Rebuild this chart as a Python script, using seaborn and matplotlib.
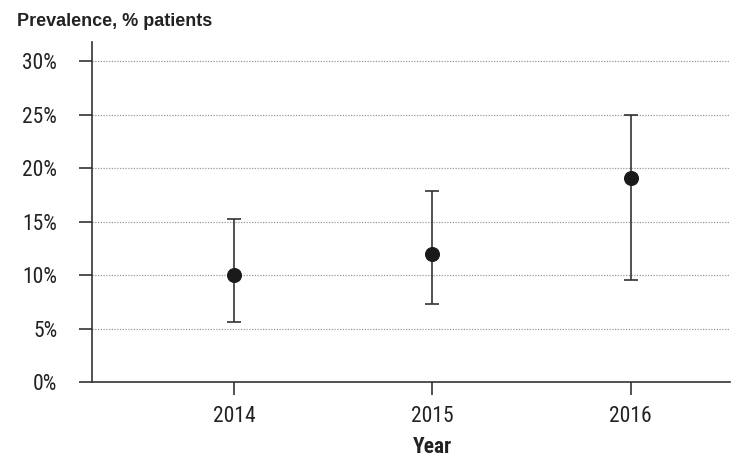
import matplotlib
matplotlib.use("Agg")
import matplotlib.pyplot as plt
import seaborn as sns
import pandas as pd
from matplotlib.ticker import FuncFormatter
from matplotlib import font_manager

years = ["2014", "2015", "2016"]
prevalence = [10.0, 12.0, 19.1]
ci_low = [5.6, 7.3, 9.5]
ci_high = [15.2, 17.85, 25.0]
yticks = [0, 5, 10, 15, 20, 25, 30]

df = pd.DataFrame({"Year": years, "Prevalence": prevalence})

sns.set_theme(style="white")
plt.rcParams['font.family'] = ['Liberation Sans', 'DejaVu Sans']

names = {f.name for f in font_manager.fontManager.ttflist}
narrow_font = 'Liberation Sans'
for cand in ['Liberation Sans Narrow', 'Arial Narrow', 'Roboto Condensed',
             'PT Sans Narrow', 'Archivo Narrow', 'Asap Condensed']:
    if cand in names:
        narrow_font = cand
        break
narrow = [narrow_font, 'Liberation Sans', 'DejaVu Sans']
nsize = 15.5 if narrow_font != 'Liberation Sans' else 13

fig = plt.figure(figsize=(7.41, 4.65), dpi=100)
ax = fig.add_axes([92/741, 83/465, (730-92)/741, (382-42)/465])

xpos = list(range(len(years)))
yerr = [[p - l for p, l in zip(prevalence, ci_low)], [h - p for p, h in zip(prevalence, ci_high)]]
ax.errorbar(xpos, prevalence, yerr=yerr, fmt="none", ecolor="#333333",
            elinewidth=1.2, capsize=5, capthick=1.2, zorder=3)
sns.scatterplot(x=xpos, y=df["Prevalence"], ax=ax, s=100, color="#1a1a1a",
                edgecolor="#1a1a1a", zorder=4, legend=False)

ax.set_xlim(-0.715, 2.5)
ax.set_ylim(0, 31.8)
ax.set_xticks(xpos)
ax.set_xticklabels(years)
ax.set_yticks(yticks)
ax.yaxis.set_major_formatter(FuncFormatter(lambda v, p: f"{int(v)}%"))

for y in yticks[1:]:
    ax.axhline(y, color="#999999", lw=0.9, ls=(0, (1, 1.2)), zorder=1)

for s in ["top", "right"]:
    ax.spines[s].set_visible(False)
for s in ["left", "bottom"]:
    ax.spines[s].set_color("#333333")
    ax.spines[s].set_linewidth(1.2)

ax.tick_params(axis="y", direction="out", length=9.5, width=1.2, color="#333333",
               labelsize=nsize, labelcolor="#222222", pad=15.5, left=True)
ax.tick_params(axis="x", direction="out", length=9.5, width=1.2, color="#333333",
               labelsize=nsize, labelcolor="#222222", pad=8, bottom=True)
for lab in ax.get_xticklabels() + ax.get_yticklabels():
    lab.set_family(narrow)

ax.set_xlabel("Year", fontsize=nsize, fontweight="bold", color="#222222",
              family=narrow)
ax.xaxis.set_label_coords((432 - 92) / 638, -(447 - 382) / 340)
ax.xaxis.label.set_va("center")
ax.set_ylabel("")

fig.text(17/741, 1 - 26/465, "Prevalence, % patients", fontsize=13,
         fontweight="bold", color="#222222", ha="left", va="baseline")

fig.savefig("out.png", dpi=100)
